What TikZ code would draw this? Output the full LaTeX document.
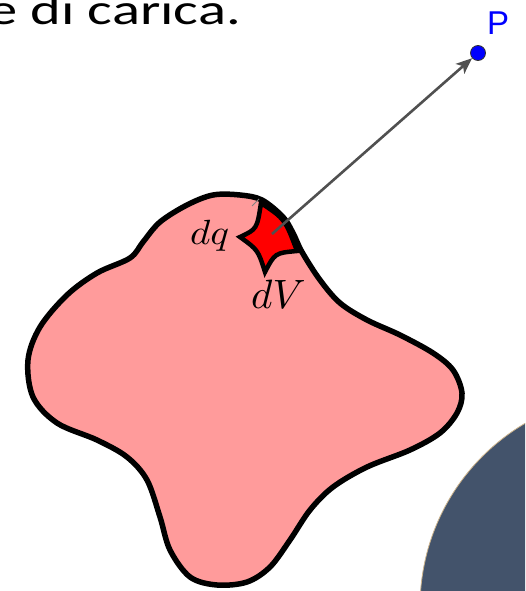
\documentclass[tikz,border=0pt]{standalone}
\usepackage{fontspec}
\setmainfont{Carlito}
\newfontfamily\psans{Liberation Sans}
\usetikzlibrary{arrows.meta}
\definecolor{blobpink}{RGB}{255,155,155}
\definecolor{slate}{RGB}{67,83,107}
\definecolor{arrowgray}{RGB}{80,80,80}
\definecolor{rimtan}{RGB}{205,180,140}
\begin{document}
\begin{tikzpicture}[x=1pt,y=-1pt,
  outline/.style={draw=black,line width=5.5pt,line join=round},
  mathlabel/.style={anchor=base west,inner sep=0pt},
  vector/.style={draw=arrowgray,line width=2.6pt,-{Stealth[length=16pt,width=13pt,inset=4pt]}},
  ptdot/.style={circle,fill=blue,draw=black!80,line width=0.8pt,minimum size=15pt,inner sep=0pt}]
\useasboundingbox (0,0) rectangle (525,591);
\clip (0,0) rectangle (525,591);
% charged body
\filldraw[outline,fill=blobpink] plot[smooth cycle,tension=0.55] coordinates {
  (213,195) (240,195) (262,200) (283,217) (293,233) (302,252) (320,280) (340,303)
  (367,320) (400,335) (433,353) (453,370) (462,393) (457,413) (440,433) (410,450)
  (367,467) (333,487) (310,510) (290,540) (270,567) (247,582) (217,585) (190,577)
  (170,550) (160,517) (147,480) (127,457) (97,440) (57,423) (33,397) (28,360)
  (40,327) (67,295) (97,273) (130,258) (143,242) (160,222) (187,205)};
% volume element dV
\coordinate (T) at (261,203);
\coordinate (R) at (297,251);
\coordinate (B) at (265,272);
\coordinate (L) at (240,237);
\filldraw[draw=black,line width=4.5pt,line join=miter,miter limit=4,fill=red]
  (T) .. controls (285,219) .. (R)
      .. controls (275,253) .. (B)
      .. controls (258,250) .. (L)
      .. controls (257,229) .. cycle;
\coordinate (dVc) at (272,234);
% small tick
\draw[gray,line width=1pt] (252,206) -- (259,199);
% point P
\node[ptdot] (P) at (478,53) {};
\draw[vector] (dVc) -- (P);
\node[mathlabel,text=blue] (Plab) at (487,35) {\psans\fontsize{33}{38}\selectfont P};
% labels
\node[mathlabel] (dq) at (190,244) {\scalebox{3.9}[3.5]{$dq$}};
\node[mathlabel] (dV) at (251,308) {\scalebox{4.1}{$dV$}};
% title fragment
\node[anchor=base west,inner sep=0pt] (title) at (-12,25)
  {\scalebox{1.36}[1]{\fontsize{43}{50}\selectfont e di carica.}};
% dark disc
\filldraw[fill=slate,draw=rimtan,line width=0.8pt] (633,607) circle (213);
\end{tikzpicture}
\end{document}
